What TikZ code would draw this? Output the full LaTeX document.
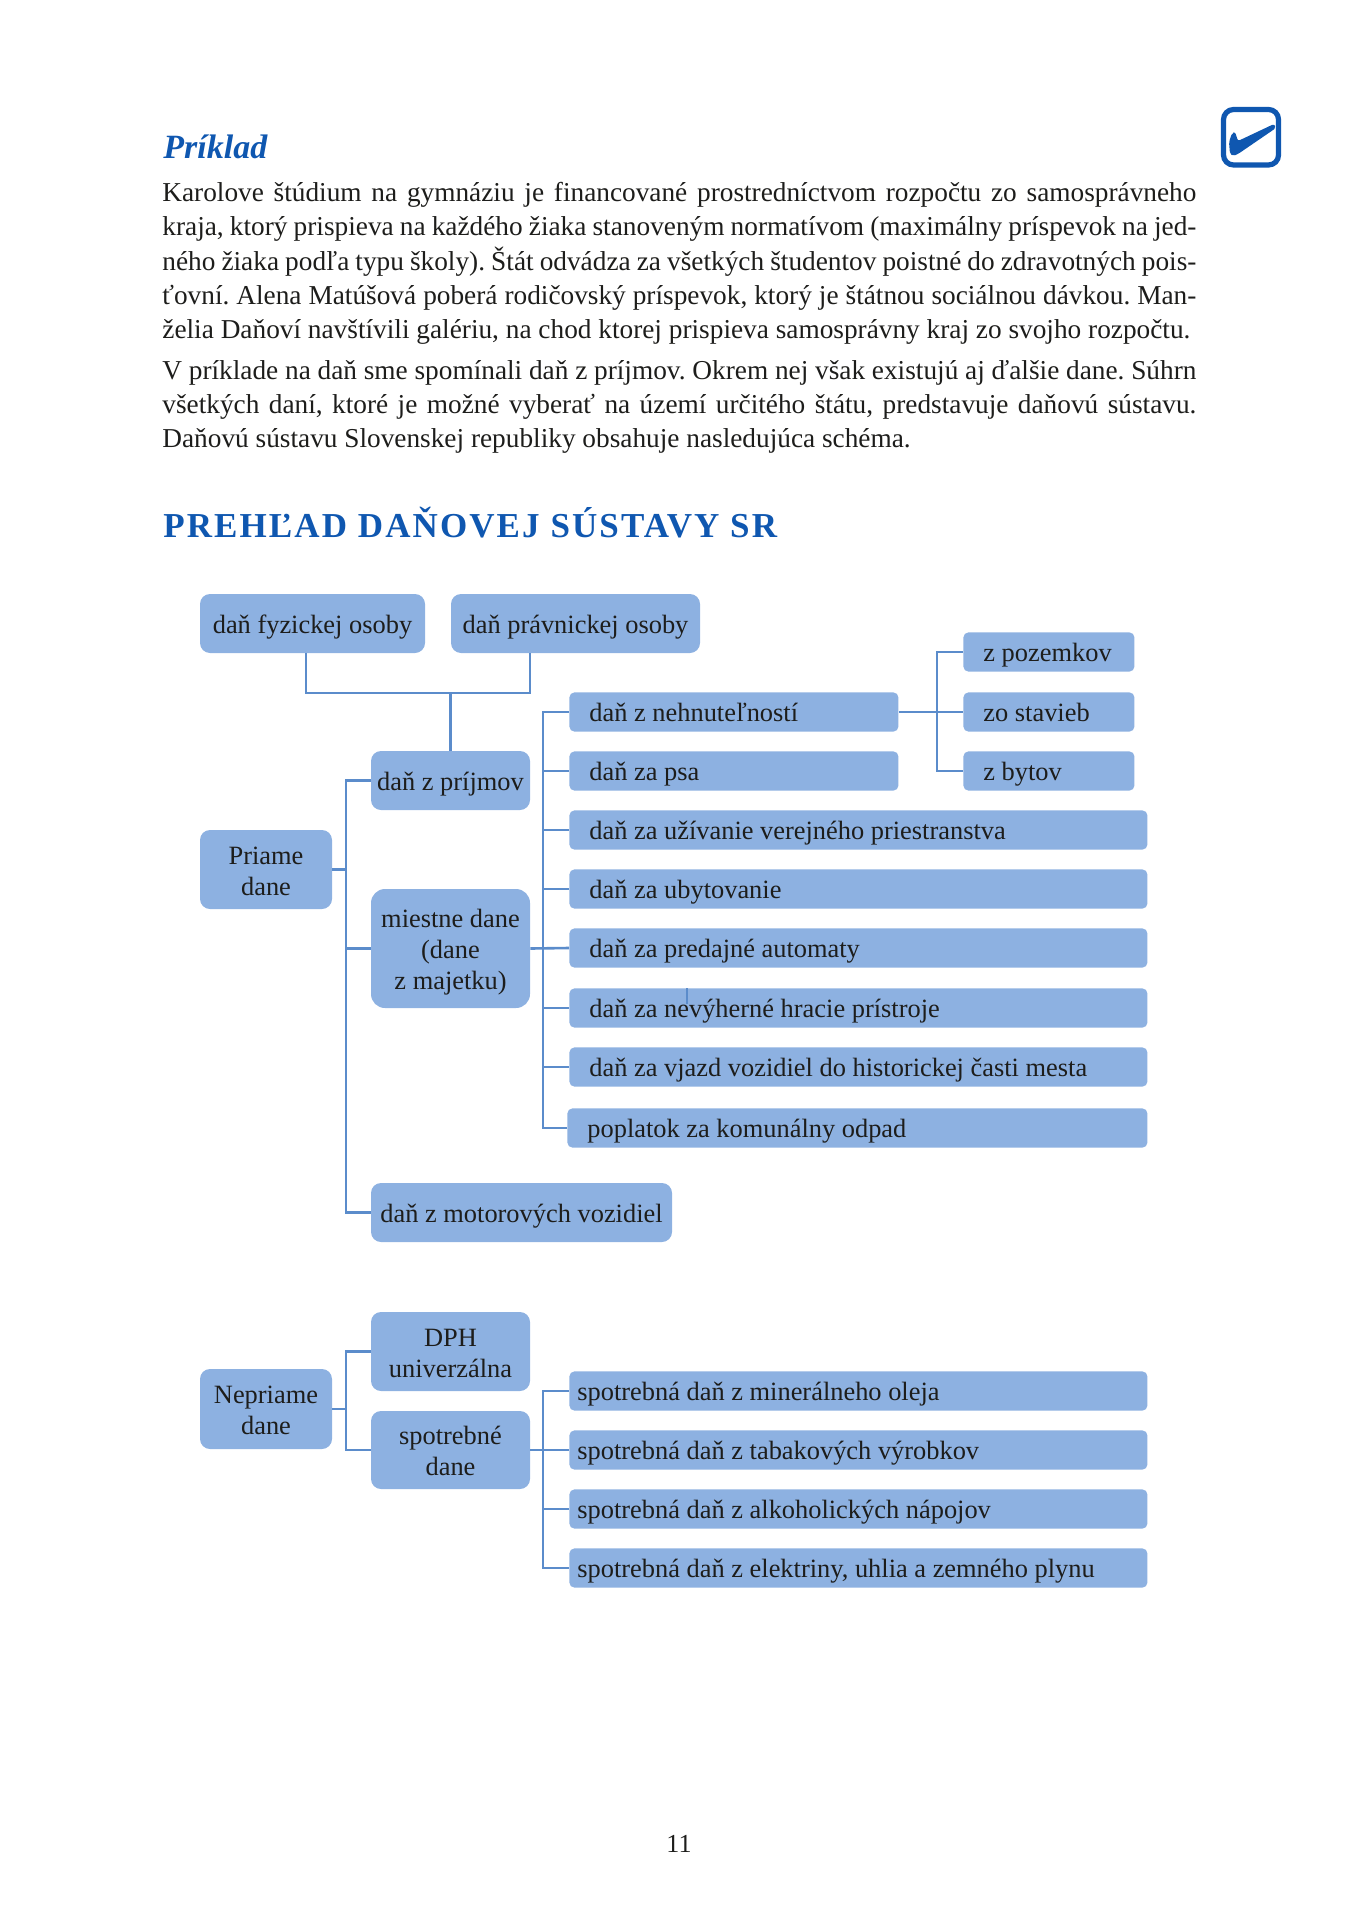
\documentclass[tikz,border=0pt]{standalone}
\usepackage{fontspec}
\setmainfont{Liberation Serif}
\newfontfamily\headfont{Liberation Serif}[LetterSpace=6]
\usetikzlibrary{positioning,calc}
\definecolor{ink}{HTML}{1D1D1B}
\definecolor{royal}{HTML}{0F57B0}
\definecolor{sky}{HTML}{8DB1E1}
\definecolor{wire}{HTML}{5B8CCB}
\tikzset{body/.style={anchor=north west,inner sep=0pt,text width=517pt,align=justify,text=ink,font=\fontsize{13.65}{17.15}\selectfont\frenchspacing},
box/.style={fill=sky,rounded corners=5pt,inner sep=0pt,align=center,text=ink,font=\fontsize{13.2}{15.5}\selectfont,text depth=.2em,text height=#1},box/.default=11.5pt,
bar/.style={fill=sky,rounded corners=2.5pt,anchor=west,align=flush left,minimum height=19.6pt,inner ysep=0pt,inner xsep=#1,text=ink,font=\fontsize{13.2}{15.5}\selectfont,text depth=.2em,text height=1.1em},
conn/.style={wire,line width=1.3pt}}
\begin{document}
\begin{tikzpicture}[x=.5pt,y=-.5pt]
\useasboundingbox (0,0) rectangle (1357,1920);
% page text
\node[anchor=base west,inner sep=0pt,text=royal,font=\fontsize{17}{20}\bfseries\itshape\selectfont] (prikladtitle) at (163,159) {Príklad};
\node[body] (para1) at (162,182) {Karolove štúdium na gymnáziu je financované prostredníctvom rozpočtu zo samosprávneho\linebreak kraja, ktorý prispieva na každého žiaka stanoveným normatívom (maximálny príspevok na jed-\linebreak ného žiaka podľa typu školy). Štát odvádza za všetkých študentov poistné do zdravotných pois-\linebreak ťovní. Alena Matúšová poberá rodičovský príspevok, ktorý je štátnou sociálnou dávkou. Man-\linebreak želia Daňoví navštívili galériu, na chod ktorej prispieva samosprávny kraj zo svojho rozpočtu.};
\node[body] (para2) at (162,360) {V príklade na daň sme spomínali daň z príjmov. Okrem nej však existujú aj ďalšie dane. Súhrn\linebreak všetkých daní, ktoré je možné vyberať na území určitého štátu, predstavuje daňovú sústavu.\linebreak Daňovú sústavu Slovenskej republiky obsahuje nasledujúca schéma.};
\node[anchor=base west,inner sep=0pt,text=royal,font=\fontsize{17.5}{20}\headfont\bfseries\selectfont] (headline) at (163,537) {PREHĽAD DAŇOVEJ SÚSTAVY SR};
\node[inner sep=0pt,text=ink,font=\fontsize{13}{15}\selectfont] (pagenum) at (679,1844) {11};
% check mark
\draw[royal,line width=2.6pt,rounded corners=5pt] (1223.5,109.5) rectangle (1278.5,165);
\fill[royal,rounded corners=1pt] (1229,142)--(1232,133)--(1235,132)--(1238,141)--(1274,124)--(1276,128)--(1238,154)--(1233,156)--(1230,154)--cycle;
% boxes
\node[box,minimum width=112.5pt,minimum height=29.5pt] (fyzicka) at (312.5,623.5) {daň fyzickej osoby};
\node[box,minimum width=124.5pt,minimum height=29.5pt] (pravnicka) at (575.5,623.5) {daň právnickej osoby};
\node[box,minimum width=79.5pt,minimum height=29.5pt] (prijmov) at (450.5,780.5) {daň z príjmov};
\node[box=43pt,rounded corners=7pt,minimum width=79.5pt,minimum height=59.5pt] (miestne) at (450.5,948.5) {miestne dane\\(dane\\z majetku)};
\node[box=27.5pt,minimum width=66pt,minimum height=39.5pt] (priame) at (266,869.5) {Priame\\dane};
\node[box,minimum width=150.5pt,minimum height=29.5pt] (motor) at (521.5,1212.5) {daň z motorových vozidiel};
\node[box=27.5pt,minimum width=66pt,minimum height=40pt] (nepriame) at (266,1409) {Nepriame\\dane};
\node[box=27.5pt,minimum width=79.5pt,minimum height=39.5pt] (dph) at (450.5,1351.5) {DPH\\univerzálna};
\node[box=27.5pt,minimum width=79.5pt,minimum height=39pt] (spotrebne) at (450.5,1450) {spotrebné\\dane};
\foreach \name/\yy/\txt in {pozemkov/652/z pozemkov,stavieb/712/zo stavieb,bytov/771/z bytov}
  \node[bar=10pt,text width=65.5pt] (\name) at (963,\yy) {\txt};
\foreach \name/\yy/\txt in {nehn/712/daň z nehnuteľností,pes/771/daň za psa}
  \node[bar=10pt,text width=144.5pt] (\name) at (569,\yy) {\txt};
\foreach \name/\yy/\txt in {uziv/830/daň za užívanie verejného priestranstva,ubyt/889/daň za ubytovanie,autom/948/daň za predajné automaty,hrac/1008/daň za nevýherné hracie prístroje,vjazd/1067/daň za vjazd vozidiel do historickej časti mesta}
  \node[bar=10pt,text width=269pt] (\name) at (569,\yy) {\txt};
\node[bar=10pt,text width=270pt] (odpad) at (567,1128) {poplatok za komunálny odpad};
\foreach \name/\yy/\txt in {olej/1391/spotrebná daň z minerálneho oleja,tabak/1450/spotrebná daň z tabakových výrobkov,alkohol/1509/spotrebná daň z alkoholických nápojov,elektr/1568/{spotrebná daň z elektriny, uhlia a zemného plynu}}
  \node[bar=4pt,text width=281pt] (\name) at (569,\yy) {\txt};
% connectors
\coordinate (fyzfoot) at (306,693);
\coordinate (pravfoot) at (530,693);
\coordinate (ptrunk) at (346,869.5);
\coordinate (ntrunk) at (346,1409);
\coordinate (mtrunk) at (543,948.5);
\coordinate (strunk) at (543,1450);
\coordinate (btrunk) at (937,712);
\coordinate (stray) at (687,1004);
\draw[conn] (fyzicka.south -| fyzfoot)--(fyzfoot)--(pravfoot)--(pravnicka.south -| pravfoot);
\draw[conn] (prijmov.north)--(prijmov.north |- fyzfoot);
\draw[conn] (priame.east)--(ptrunk);
\foreach \name in {prijmov,miestne,motor}{\draw[conn] (\name.west) -| (ptrunk);}
\draw[conn] (miestne.east)--(autom.west);
\foreach \name in {nehn,pes,uziv,ubyt,hrac,vjazd,odpad}{\draw[conn] (\name.west) -| (mtrunk);}
\draw[conn] (nehn.east)--(stavieb.west);
\foreach \name in {pozemkov,bytov}{\draw[conn] (\name.west) -| (btrunk);}
\draw[conn] (nepriame.east)--(ntrunk);
\foreach \name in {dph,spotrebne}{\draw[conn] (\name.west) -| (ntrunk);}
\draw[conn] (spotrebne.east)--(tabak.west);
\foreach \name in {olej,alkohol,elektr}{\draw[conn] (\name.west) -| (strunk);}
\draw[conn] (hrac.north -| stray)--(stray);
\end{tikzpicture}
\end{document}
